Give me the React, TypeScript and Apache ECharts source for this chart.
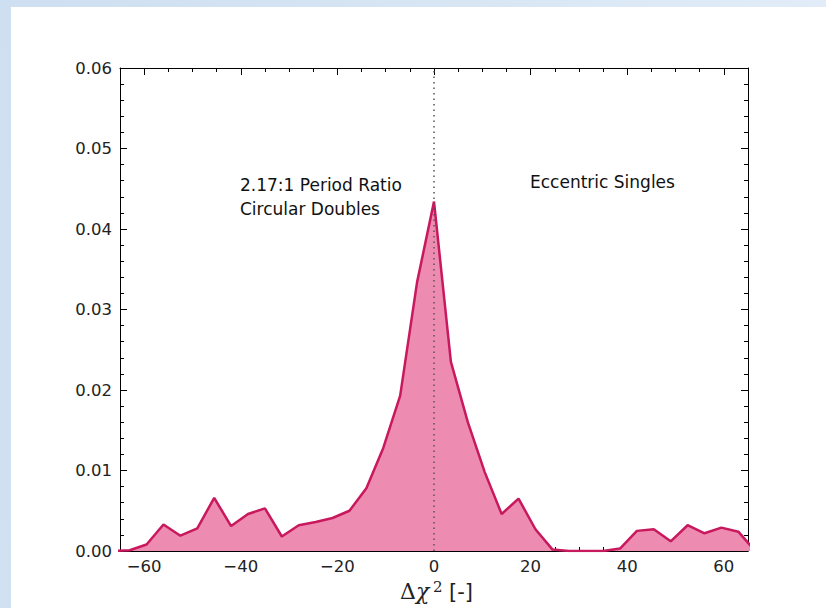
import React, { useEffect, useRef } from "react";
import * as echarts from "echarts";

const xValues = [
  -66.5, -63, -59.5, -56, -52.5, -49, -45.5, -42, -38.5, -35, -31.5, -28, -24.5, -21, -17.5, -14, -10.5, -7, -3.5,
  0, 3.5, 7, 10.5, 14, 17.5, 21, 24.5, 28, 31.5, 35, 38.5, 42, 45.5, 49, 52.5, 56, 59.5, 63, 66.5,
];
const densityValues = [
  0, 0.0001, 0.0008, 0.0033, 0.0019, 0.0028, 0.0066, 0.0031, 0.0046, 0.0053, 0.0018, 0.0032, 0.0036, 0.0041, 0.005,
  0.0078, 0.0128, 0.0193, 0.0334, 0.0434, 0.0235, 0.016, 0.0098, 0.0046, 0.0065, 0.0027, 0.0002, 0, 0, 0, 0.0003,
  0.0025, 0.0027, 0.0012, 0.0032, 0.0022, 0.0029, 0.0024, 0,
];
const xMajorTicks = [-60, -40, -20, 0, 20, 40, 60];
const xMinorTicks = [-65, -55, -50, -45, -35, -30, -25, -15, -10, -5, 5, 10, 15, 25, 30, 35, 45, 50, 55, 65];
const leftLabel = ["2.17:1 Period Ratio", "Circular Doubles"];
const rightLabel = "Eccentric Singles";

const FONT = "DejaVu Sans";

const fmtX = (v: number) => (v < 0 ? "\u2212" + Math.abs(v) : String(v));

export default function App() {
  const ref = useRef<HTMLDivElement>(null);
  useEffect(() => {
    if (!ref.current) return;
    const chart = echarts.init(ref.current, undefined, { renderer: "svg" });
    const xBase = {
      type: "value" as const,
      min: -65,
      max: 65,
      gridIndex: 0,
      splitLine: { show: false },
    };
    const yBase = {
      type: "value" as const,
      min: 0,
      max: 0.06,
      interval: 0.01,
      splitLine: { show: false },
    };
    chart.setOption({
      animation: false,
      backgroundColor: "transparent",
      grid: { left: 120, right: 78, top: 68, bottom: 57, containLabel: false },
      xAxis: [
        {
          ...xBase,
          position: "bottom",
          axisLine: { show: true, onZero: false, lineStyle: { color: "#000", width: 1 } },
          axisTick: { show: true, inside: true, length: 7, customValues: xMajorTicks, lineStyle: { color: "#000" } },
          axisLabel: {
            show: true,
            customValues: xMajorTicks,
            formatter: fmtX,
            margin: 7,
            fontFamily: FONT,
            fontSize: 16.5,
            color: "#222",
          },
        },
        {
          ...xBase,
          position: "bottom",
          axisLine: { show: false, onZero: false },
          axisTick: { show: true, inside: true, length: 4, customValues: xMinorTicks, lineStyle: { color: "#000" } },
          axisLabel: { show: false },
        },
        {
          ...xBase,
          position: "top",
          axisLine: { show: true, onZero: false, lineStyle: { color: "#000", width: 1 } },
          axisTick: { show: true, inside: true, length: 7, customValues: xMajorTicks, lineStyle: { color: "#000" } },
          axisLabel: { show: false },
        },
        {
          ...xBase,
          position: "top",
          axisLine: { show: false, onZero: false },
          axisTick: { show: true, inside: true, length: 4, customValues: xMinorTicks, lineStyle: { color: "#000" } },
          axisLabel: { show: false },
        },
      ],
      yAxis: [
        {
          ...yBase,
          position: "left",
          axisLine: { show: true, onZero: false, lineStyle: { color: "#000", width: 1 } },
          axisTick: { show: true, inside: true, length: 7, lineStyle: { color: "#000" } },
          minorTick: { show: true, splitNumber: 5, length: 4, lineStyle: { color: "#000" } },
          axisLabel: {
            show: true,
            formatter: (v: number) => v.toFixed(2),
            margin: 8,
            fontFamily: FONT,
            fontSize: 16.5,
            color: "#222",
          },
        },
        {
          ...yBase,
          position: "right",
          axisLine: { show: true, onZero: false, lineStyle: { color: "#000", width: 1 } },
          axisTick: { show: true, inside: true, length: 7, lineStyle: { color: "#000" } },
          minorTick: { show: true, splitNumber: 5, length: 4, lineStyle: { color: "#000" } },
          axisLabel: { show: false },
        },
      ],
      series: [
        {
          type: "line",
          xAxisIndex: 0,
          yAxisIndex: 0,
          data: xValues.map((x, i) => [x, densityValues[i]]),
          symbol: "none",
          clip: true,
          lineStyle: { color: "#c8185e", width: 2.5 },
          areaStyle: { color: "#ee8bb0", opacity: 1 },
          z: 2,
          markLine: {
            silent: true,
            symbol: "none",
            label: { show: false },
            lineStyle: { color: "#555", type: [1.5, 4], width: 1.5 },
            data: [{ xAxis: 0 }],
            z: 5,
          },
        },
      ],
      graphic: [
        {
          type: "text",
          left: 240,
          top: 173,
          z: 100,
          style: {
            text: leftLabel.join("\n"),
            font: `17px "${FONT}"`,
            fill: "#111",
            lineHeight: 24,
          },
        },
        {
          type: "text",
          left: 530,
          top: 173,
          z: 100,
          style: { text: rightLabel, font: `17px "${FONT}"`, fill: "#111" },
        },
        {
          type: "text",
          left: 400,
          top: 580,
          z: 100,
          style: {
            text: "{a|Δ}{b|χ}",
            rich: {
              a: { fontFamily: "DejaVu Serif", fontSize: 22, fill: "#222" },
              b: { fontFamily: "DejaVu Serif", fontStyle: "italic", fontSize: 22, fill: "#222" },
            },
          },
        },
        {
          type: "text",
          left: 433,
          top: 579,
          z: 100,
          style: { text: "2", font: '15px "DejaVu Serif"', fill: "#222" },
        },
        {
          type: "text",
          left: 449,
          top: 581,
          z: 100,
          style: { text: "[-]", font: '21px "DejaVu Sans"', fill: "#222" },
        },
      ],
    });
    return () => chart.dispose();
  }, []);
  return (
    <div
      style={{
        position: "absolute",
        left: 0,
        top: 0,
        width: 826,
        height: 608,
        background: "linear-gradient(100deg, #cddff1 0%, #d8e6f4 50%, #e4eef9 100%)",
        overflow: "hidden",
      }}
    >
      <div style={{ position: "absolute", left: 11, top: 7, right: 0, bottom: 0, background: "#fff" }} />
      <div ref={ref} style={{ position: "absolute", left: 0, top: 0, width: 826, height: 608 }} />
    </div>
  );
}
